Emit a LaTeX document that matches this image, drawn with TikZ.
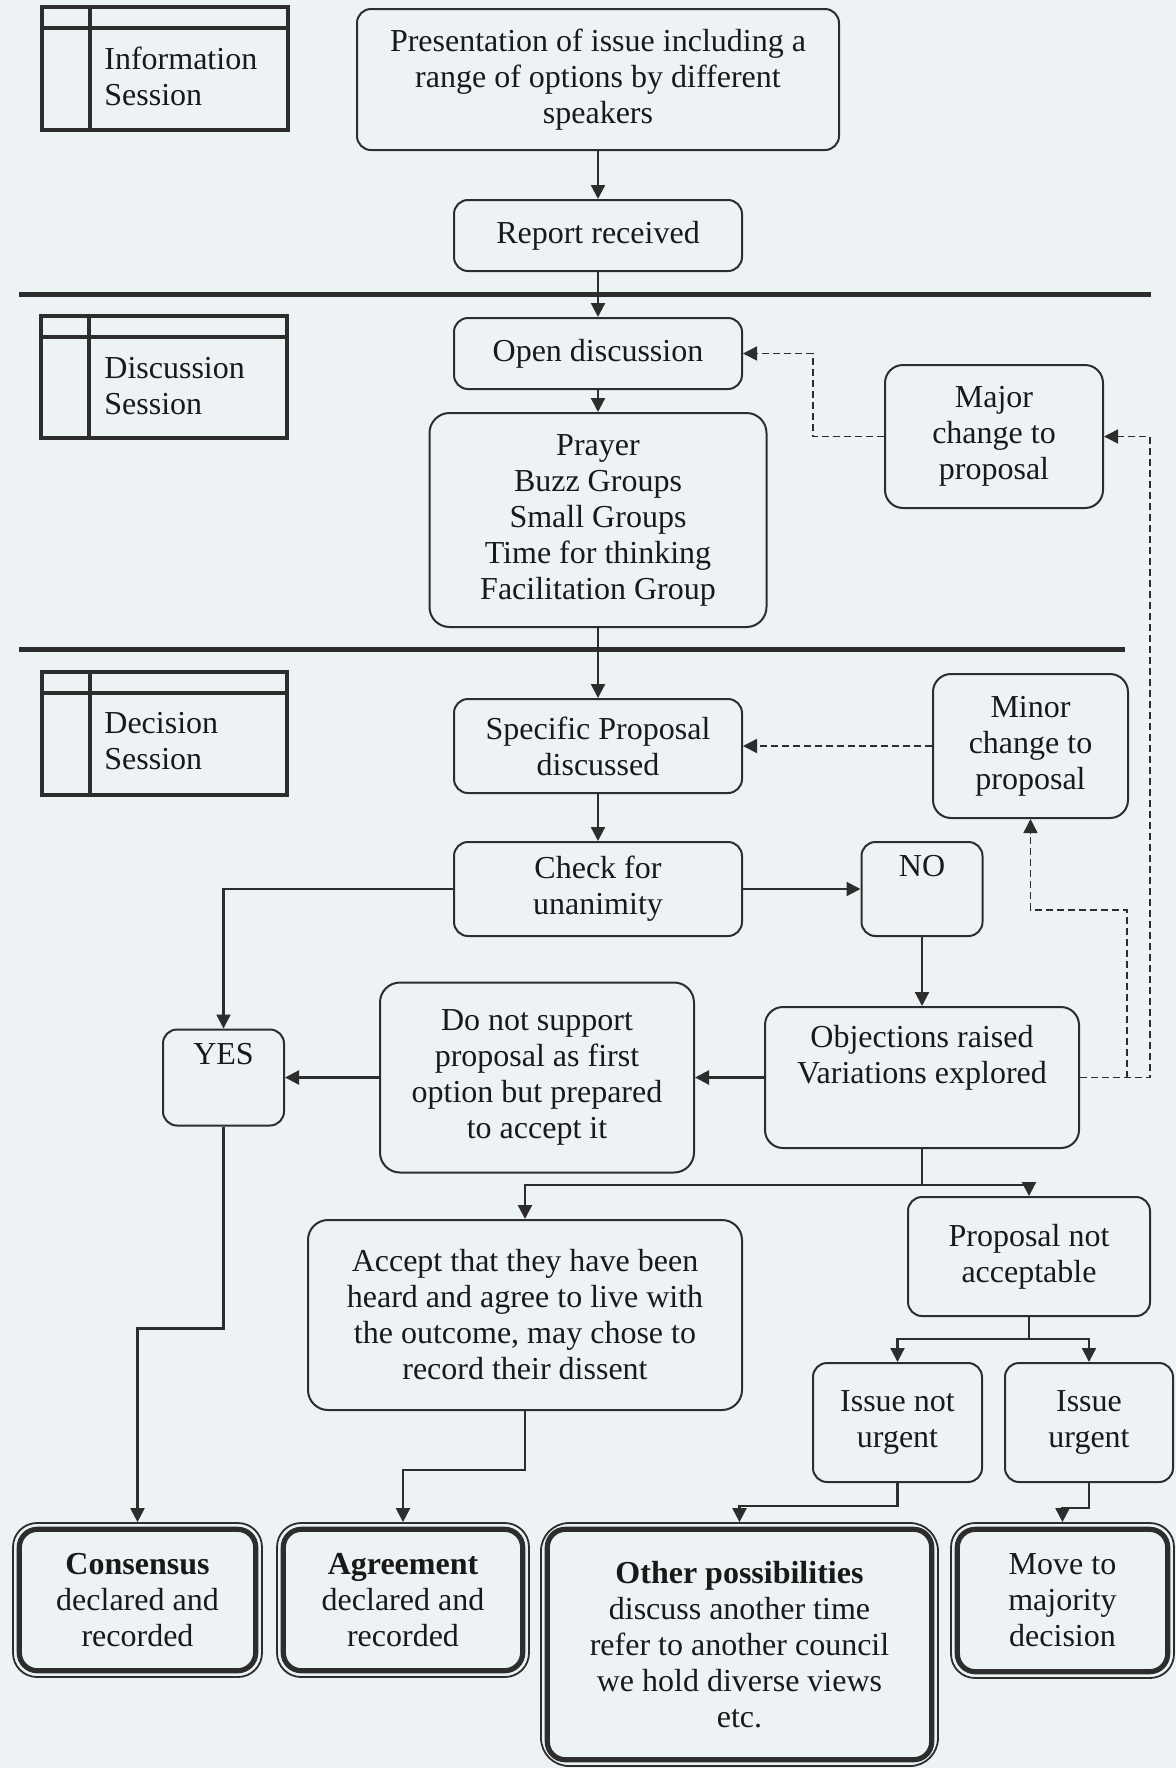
\documentclass[tikz,border=0pt]{standalone}
\usepackage{fontspec}
\setmainfont{Liberation Serif}
\usetikzlibrary{arrows.meta,calc}
\definecolor{bg}{RGB}{237,242,245}
\definecolor{ink}{RGB}{45,45,45}
\definecolor{txt}{RGB}{25,25,25}
\begin{document}
\begin{tikzpicture}[x=0.5pt,y=-0.5pt,
  every node/.style={font=\fontsize{16}{18}\selectfont, text=txt},
  box/.style={draw=ink, line width=1pt, rounded corners=7pt, align=center, inner sep=0pt},
  finalbox/.style={draw=ink, line width=0.9pt, rounded corners=12pt, align=center, inner sep=0pt},
  sessbox/.style={draw=ink, line width=2pt, inner sep=0pt},
  sessline/.style={draw=ink, line width=2pt},
  sesstext/.style={anchor=west, align=left, inner sep=0pt},
  sep/.style={draw=ink, line width=2.5pt},
  conn/.style={draw=ink, line width=1.1pt, -{Triangle[length=7pt,width=7pt]}},
  plain/.style={draw=ink, line width=1.1pt},
  dconn/.style={draw=ink, line width=0.8pt, dash pattern=on 3.5pt off 2pt, -{Triangle[length=7pt,width=7pt]}},
  dplain/.style={draw=ink, line width=0.8pt, dash pattern=on 3.5pt off 2pt}
]
\fill[bg] (0,0) rectangle (1176,1768);
\useasboundingbox (0,0) rectangle (1176,1768);

% separators
\draw[sep] (19,294.5) -- (1151,294.5);
\draw[sep] (19,649) -- (1125,649);

% session boxes
\node[sessbox, minimum width=123pt, minimum height=61.5pt] (infob) at (165,68.5) {};
\node[sessbox, minimum width=123pt, minimum height=61pt] (discb) at (164,377) {};
\node[sessbox, minimum width=122.5pt, minimum height=61.5pt] (decb) at (164.5,733.5) {};
\foreach \b in {infob,discb,decb}{
  \draw[sessline] ($(\b.north west)+(0,23)$) -- ($(\b.north east)+(0,23)$);
  \draw[sessline] ($(\b.north west)+(50,0)$) -- ($(\b.south west)+(50,0)$);
}
\node[sesstext] (infot) at (104,76) {Information\\Session};
\node[sesstext] (disct) at (104,386) {Discussion\\Session};
\node[sesstext] (dect) at (104,741) {Decision\\Session};

% main flow
\node[box, minimum width=241pt, minimum height=70.5pt] (pres) at (598,79.5)
  {Presentation of issue including a\\range of options by different\\speakers};
\node[box, minimum width=144pt, minimum height=35.5pt] (report) at (598,235.5) {Report received};
\node[box, minimum width=144pt, minimum height=35.5pt] (open) at (598,353.5) {Open discussion};
\node[box, minimum width=168.5pt, minimum height=107pt, rounded corners=10pt] (prayer) at (598,520)
  {Prayer\\Buzz Groups\\Small Groups\\Time for thinking\\Facilitation Group};
\node[box, minimum width=109pt, minimum height=71.5pt, rounded corners=9pt] (major) at (994,436.5)
  {Major\\change to\\proposal};
\node[box, minimum width=144pt, minimum height=47pt] (spec) at (598,746) {Specific Proposal\\discussed};
\node[box, minimum width=97.5pt, minimum height=72pt, rounded corners=9pt] (minor) at (1030.5,746)
  {Minor\\change to\\proposal};
\node[box, minimum width=144pt, minimum height=47pt] (check) at (598,889) {Check for\\unanimity};
\node[box, minimum width=60.5pt, minimum height=47pt] (no) at (922,889) {NO\\\strut};
\node[box, minimum width=60.5pt, minimum height=48pt] (yes) at (223.5,1077.5) {YES\\\strut};
\node[box, minimum width=157pt, minimum height=95pt, rounded corners=10pt] (dns) at (537,1077.5)
  {Do not support\\proposal as first\\option but prepared\\to accept it};
\node[box, minimum width=157pt, minimum height=70.5pt, rounded corners=9pt] (obj) at (922,1077.5)
  {Objections raised\\Variations explored\\\strut};
\node[box, minimum width=217pt, minimum height=95pt, rounded corners=10pt] (accept) at (525,1315)
  {Accept that they have been\\heard and agree to live with\\the outcome, may chose to\\record their dissent};
\node[box, minimum width=121pt, minimum height=59.5pt] (pna) at (1029,1256.5) {Proposal not\\acceptable};
\node[box, minimum width=84.5pt, minimum height=59.5pt] (inu) at (897.5,1422.5) {Issue not\\urgent};
\node[box, minimum width=84pt, minimum height=59.5pt] (iu) at (1089,1422.5) {Issue\\urgent};

% final boxes
\node[finalbox, minimum width=124.5pt, minimum height=77pt] (cons) at (137.5,1600)
  {\textbf{Consensus}\\declared and\\recorded};
\node[finalbox, minimum width=126pt, minimum height=77pt] (agr) at (403,1600)
  {\textbf{Agreement}\\declared and\\recorded};
\node[finalbox, minimum width=198.5pt, minimum height=121.5pt, rounded corners=14pt] (other) at (739.5,1644.5)
  {\textbf{Other possibilities}\\discuss another time\\refer to another council\\we hold diverse views\\etc.};
\node[finalbox, minimum width=111.5pt, minimum height=77.5pt] (move) at (1062.5,1600.5)
  {Move to\\majority\\decision};
\foreach \n in {cons,agr,other,move}{
  \draw[ink, line width=2.6pt, rounded corners=9pt]
    ([xshift=3.6pt,yshift=-3.6pt]\n.north west) rectangle ([xshift=-3.6pt,yshift=3.6pt]\n.south east);
}

% connectors
\draw[conn] (pres.south) -- (report.north);
\draw[conn] (report.south) -- (open.north);
\draw[conn] (open.south) -- (prayer.north);
\draw[conn] (prayer.south) -- (spec.north);
\draw[conn] (spec.south) -- (check.north);
\draw[conn] (check.east) -- (no.west);
\draw[conn] (check.west) -| (yes.north);
\draw[conn] (no.south) -- (obj.north);
\draw[conn] (obj.west) -- (dns.east);
\draw[conn] (dns.west) -- (yes.east);
\draw[conn] (obj.south) -- ++(0,36) coordinate (b1) -| (accept.north);
\draw[conn] (b1) -| (pna.north);
\draw[plain] (pna.south) -- ++(0,22) coordinate (b2);
\draw[conn] (b2) -| (inu.north);
\draw[conn] (b2) -| (iu.north);
\draw[conn] (yes.south) -- ++(0,202) -| (cons.north);
\draw[conn] (accept.south) -- ++(0,59) -| (agr.north);
\draw[conn] (inu.south) -- ++(0,23) -| (other.north);
\draw[conn] (iu.south) -- ++(0,25) -| (move.north);

% dashed feedback
\draw[dconn] (major.west) -- ++(-71,0) |- (open.east);
\draw[dconn] (obj.east) -- ++(70,0) |- (major.east);
\coordinate (dj) at (1127,1077.5);
\coordinate (dk) at (1127,910);
\draw[dconn] (dj) -- (dk) -| (minor.south);
\draw[dconn] (minor.west) -- (spec.east);
\end{tikzpicture}
\end{document}
